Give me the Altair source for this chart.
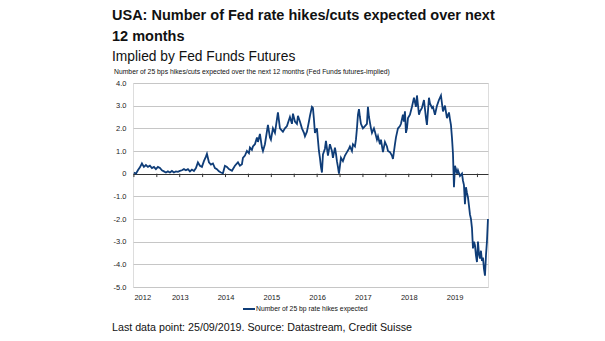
import altair as alt
import pandas as pd

# Decimal-year positions and values
years = [
    2012.000, 2012.044, 2012.087, 2012.131, 2012.175, 2012.218, 2012.262, 2012.306, 2012.349, 2012.393,
    2012.437, 2012.480, 2012.524, 2012.568, 2012.611, 2012.655, 2012.699, 2012.742, 2012.786, 2012.830,
    2012.873, 2012.917, 2012.961, 2013.004, 2013.048, 2013.092, 2013.135, 2013.179, 2013.223, 2013.266,
    2013.310, 2013.354, 2013.397, 2013.441, 2013.485, 2013.528, 2013.572, 2013.594, 2013.638, 2013.681,
    2013.725, 2013.769, 2013.812, 2013.856, 2013.900, 2013.943, 2013.987, 2014.031, 2014.074, 2014.140,
    2014.205, 2014.271, 2014.314, 2014.358, 2014.380, 2014.424, 2014.467, 2014.511, 2014.533, 2014.576,
    2014.598, 2014.642, 2014.686, 2014.707, 2014.751, 2014.795, 2014.817, 2014.860, 2014.926, 2014.969,
    2014.991, 2015.035, 2015.079, 2015.122, 2015.144, 2015.188, 2015.231, 2015.253, 2015.297, 2015.341,
    2015.406, 2015.450, 2015.472, 2015.515, 2015.559, 2015.581, 2015.624, 2015.668, 2015.712, 2015.734,
    2015.777, 2015.821, 2015.843, 2015.886, 2015.908, 2015.930, 2015.952, 2015.996, 2016.017, 2016.039,
    2016.061, 2016.083, 2016.105, 2016.127, 2016.170, 2016.192, 2016.236, 2016.279, 2016.323, 2016.345,
    2016.389, 2016.410, 2016.432, 2016.454, 2016.476, 2016.520, 2016.563, 2016.607, 2016.651, 2016.694,
    2016.716, 2016.760, 2016.782, 2016.825, 2016.847, 2016.869, 2016.891, 2016.913, 2016.934, 2016.956,
    2016.978, 2017.000, 2017.044, 2017.087, 2017.109, 2017.131, 2017.175, 2017.197, 2017.240, 2017.262,
    2017.306, 2017.328, 2017.371, 2017.393, 2017.437, 2017.480, 2017.524, 2017.546, 2017.590, 2017.633,
    2017.655, 2017.699, 2017.721, 2017.764, 2017.808, 2017.830, 2017.873, 2017.895, 2017.917, 2017.939,
    2017.961, 2017.983, 2018.026, 2018.070, 2018.114, 2018.157, 2018.179, 2018.223, 2018.245, 2018.288,
    2018.332, 2018.376, 2018.397, 2018.441, 2018.463, 2018.507, 2018.528, 2018.572, 2018.616, 2018.659,
    2018.703, 2018.747, 2018.790, 2018.834, 2018.878, 2018.900, 2018.921, 2018.943, 2018.965, 2018.987,
    2019.009, 2019.031, 2019.052, 2019.074, 2019.118, 2019.162, 2019.183, 2019.205, 2019.227, 2019.249,
    2019.271, 2019.293, 2019.314, 2019.336, 2019.358, 2019.380, 2019.402, 2019.424, 2019.445, 2019.467,
    2019.489, 2019.511, 2019.533, 2019.555, 2019.576, 2019.598, 2019.620, 2019.642, 2019.664, 2019.686,
    2019.707, 2019.729,
]
hikes = [
    0.05, 0.00, 0.15, 0.28, 0.45, 0.30, 0.38, 0.30, 0.35, 0.25,
    0.30, 0.20, 0.30, 0.25, 0.15, 0.10, 0.05, 0.10, 0.05, 0.12,
    0.05, 0.10, 0.08, 0.12, 0.15, 0.20, 0.15, 0.20, 0.10, 0.18,
    0.12, 0.25, 0.50, 0.35, 0.30, 0.55, 0.75, 0.87, 0.50, 0.40,
    0.45, 0.25, 0.20, 0.10, 0.05, 0.02, 0.35, 0.30, 0.20, 0.13,
    0.35, 0.50, 0.35, 0.42, 0.70, 0.80, 1.00, 0.90, 1.15, 1.05,
    1.20, 1.30, 1.60, 1.40, 1.75, 1.15, 1.00, 1.30, 2.15, 1.60,
    1.50, 2.00, 1.80, 2.40, 2.70, 2.00, 1.90, 1.85, 2.00, 2.10,
    2.50, 2.20, 2.65, 2.30, 2.20, 2.55, 2.30, 2.00, 1.80, 1.65,
    1.85, 2.30, 2.55, 2.95, 2.90, 2.40, 1.80, 2.00, 1.50, 1.00,
    0.70, 0.30, 0.05, 0.85, 1.10, 1.45, 0.80, 1.30, 1.00, 0.70,
    1.15, 0.90, 0.55, 0.30, 0.00, 0.70, 0.55, 0.80, 0.95, 1.10,
    1.20, 1.00, 1.30, 1.20, 1.50, 2.00, 2.60, 2.85, 2.50, 2.20,
    2.10, 2.00, 2.10, 2.20, 2.95, 2.50, 2.00, 1.80, 2.00, 1.85,
    1.50, 1.65, 1.30, 1.50, 0.95, 1.40, 1.20, 1.00, 0.95, 0.80,
    0.65, 1.30, 1.60, 2.00, 2.10, 2.20, 2.60, 2.30, 2.75, 1.80,
    2.00, 2.45, 2.60, 2.95, 3.35, 2.95, 3.45, 2.60, 2.75, 2.90,
    3.25, 2.45, 2.15, 3.35, 3.10, 2.90, 2.95, 2.60, 3.00, 3.25,
    3.45, 2.75, 3.00, 2.45, 2.70, 2.40, 2.15, 1.60, 0.90, -0.60,
    0.35, 0.20, 0.00, 0.15, -0.10, 0.00, -0.30, -0.50, -1.35, -0.60,
    -0.85, -1.05, -1.40, -1.80, -2.00, -2.40, -3.30, -3.00, -3.15, -3.60,
    -3.90, -3.00, -3.55, -3.75, -3.40, -3.85, -3.70, -4.20, -4.50, -3.60,
    -3.00, -2.00,
]

year_ticks = [2012, 2013, 2014, 2015, 2016, 2017, 2018, 2019]
half_year_ticks = [2012, 2012.5, 2013, 2013.5, 2014, 2014.5, 2015, 2015.5, 2016, 2016.5,
                   2017, 2017.5, 2018, 2018.5, 2019, 2019.5]
y_ticks = [-5, -4, -3, -2, -1, 0, 1, 2, 3, 4]

title_line1 = "USA: Number of Fed rate hikes/cuts expected over next"
title_line2 = "12 months"
subtitle = "Implied by Fed Funds Futures"
axis_caption = "Number of 25 bps hikes/cuts expected over the next 12 months (Fed Funds futures-implied)"
legend_label = "Number of 25 bp rate hikes expected"
footer = "Last data point: 25/09/2019. Source: Datastream, Credit Suisse"

NAVY = "#0f3d78"
FONT = "Liberation Sans"
W, H = 355, 204

df = pd.DataFrame({"year": years, "value": hikes})
ticks_df = pd.DataFrame({"year": half_year_ticks, "value": 0.0, "low": -0.15})

xscale = alt.Scale(domain=[2011.98, 2019.73], nice=False, zero=False)
yscale = alt.Scale(domain=[-5, 4], nice=False, zero=False)

x_axis = alt.Axis(values=year_ticks, format="d", title=None, grid=False, ticks=False,
                  domain=False, labelFontSize=7.5, labelColor="#222", labelPadding=6,
                  labelFont=FONT, labelOverlap=False)
y_axis = alt.Axis(values=y_ticks, title=None, grid=True, gridWidth=1,
                  gridColor=alt.condition("datum.value == 0", alt.value("#333333"), alt.value("#c6c6c6")),
                  ticks=False, domain=False, labelFontSize=7.5, labelColor="#222",
                  labelPadding=7, labelFont=FONT, labelOverlap=False,
                  labelExpr="datum.value == 0 ? '0' : (datum.value < 0 ? '-' : '') + format(abs(datum.value), '.1f')")

x_enc = alt.X("year:Q", scale=xscale, axis=x_axis)
y_enc = alt.Y("value:Q", scale=yscale, axis=y_axis)

tick_marks = alt.Chart(ticks_df).mark_rule(color="#333", strokeWidth=1).encode(
    x=x_enc, y=y_enc, y2="low:Q",
)

line = alt.Chart(df).mark_line(color=NAVY, strokeWidth=1.8, clip=False).encode(
    x=x_enc, y=y_enc,
)

def txt(s, x, y, size, weight="normal", align="left"):
    return alt.Chart(pd.DataFrame({"t": [s]})).mark_text(
        align=align, baseline="middle", fontSize=size, fontWeight=weight, font=FONT,
        color="#111", clip=False,
    ).encode(text="t:N", x=alt.value(x), y=alt.value(y))

texts = [
    txt(title_line1, -21, -67, 14.5, "bold"),
    txt(title_line2, -21, -46, 14.5, "bold"),
    txt(subtitle, -21, -26, 13.8),
    txt(axis_caption, -19, -11, 6.8),
    txt(legend_label, 123, 226, 6.8),
    txt(footer, -21, 245, 10.7),
]

legend_line = alt.Chart(pd.DataFrame({"v": [0]})).mark_rule(color=NAVY, strokeWidth=2).encode(
    x=alt.value(110), x2=alt.value(122), y=alt.value(226),
)

chart = alt.layer(tick_marks, line, legend_line, *texts).properties(
    width=W, height=H,
    autosize=alt.AutoSizeParams(type="none"),
    padding={"left": 133, "top": 83, "right": 117, "bottom": 54},
).configure_view(stroke=None).configure(background="white")

chart.save("out.html", embed_options={"renderer": "svg", "actions": False})
